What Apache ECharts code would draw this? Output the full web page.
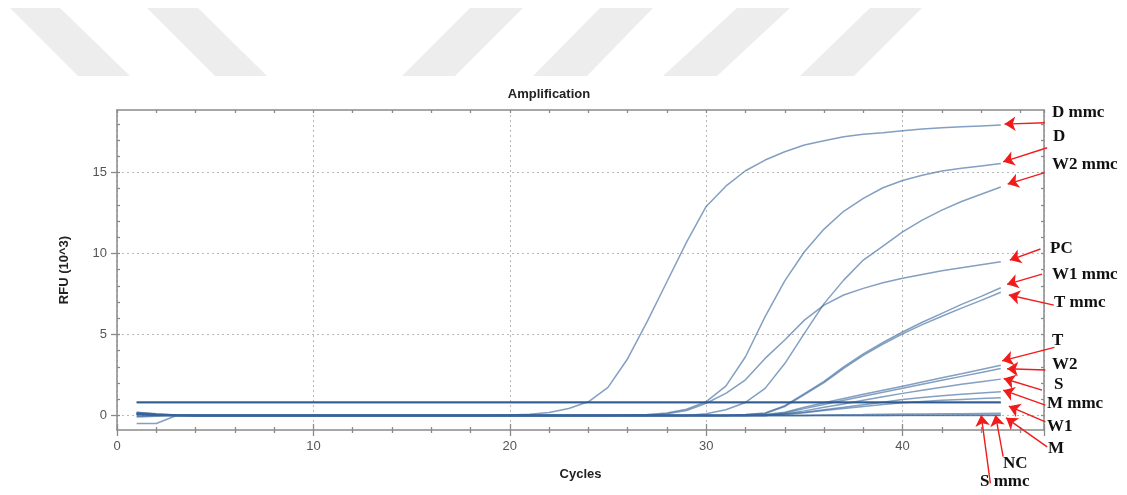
<!DOCTYPE html>
<html>
<head>
<meta charset="utf-8">
<title>Amplification</title>
<script src="https://cdn.jsdelivr.net/npm/echarts@6/dist/echarts.min.js"></script>
<style>
  html, body { margin: 0; padding: 0; background: #fff; }
  #chart { width: 1127px; height: 495px; }
</style>
</head>
<body>
<div id="chart"></div>
<script>
// cycle numbers (x)
const cycles = [1, 2, 3, 4, 5, 6, 7, 8, 9, 10, 11, 12, 13, 14, 15, 16, 17, 18, 19, 20,
  21, 22, 23, 24, 25, 26, 27, 28, 29, 30, 31, 32, 33, 34, 35, 36, 37, 38, 39, 40,
  41, 42, 43, 44, 45];

// RFU (10^3) per cycle
const dMmc = [0.12, 0.04, 0.01, 0, 0, 0, 0, 0, 0, 0, 0, 0, 0, 0, 0, 0, 0, 0, 0, 0.02,
  0.07, 0.18, 0.43, 0.84, 1.73, 3.5, 5.8, 8.25, 10.7, 12.9, 14.15, 15.1, 15.76, 16.27, 16.69, 16.95, 17.2, 17.35, 17.45, 17.57,
  17.67, 17.75, 17.82, 17.87, 17.92];
const d = [0.08, 0.03, 0, 0, 0, 0, 0, 0, 0, 0, 0, 0, 0, 0, 0, 0, 0, 0, 0, 0,
  0, 0, 0, 0, 0, 0.02, 0.06, 0.15, 0.38, 0.85, 1.81, 3.62, 6.1, 8.3, 10.1, 11.5, 12.6, 13.4, 14.05, 14.5,
  14.82, 15.08, 15.25, 15.4, 15.55];
const w2Mmc = [0.15, 0.05, 0.01, 0, 0, 0, 0, 0, 0, 0, 0, 0, 0, 0, 0, 0, 0, 0, 0, 0,
  0, 0, 0, 0, 0, 0, 0, 0, 0, 0.1, 0.35, 0.8, 1.67, 3.2, 5.06, 6.9, 8.35, 9.59, 10.45, 11.33,
  12.05, 12.67, 13.2, 13.65, 14.1];
const pc = [0.05, 0.02, 0, 0, 0, 0, 0, 0, 0, 0, 0, 0, 0, 0, 0, 0, 0, 0, 0, 0,
  0, 0, 0, 0, 0, 0, 0, 0.1, 0.3, 0.75, 1.36, 2.2, 3.52, 4.65, 5.88, 6.81, 7.43, 7.84, 8.19, 8.46,
  8.7, 8.93, 9.12, 9.3, 9.48];
const w1Mmc = [0.1, 0.03, 0, 0, 0, 0, 0, 0, 0, 0, 0, 0, 0, 0, 0, 0, 0, 0, 0, 0,
  0, 0, 0, 0, 0, 0, 0, 0, 0, 0, 0, 0.05, 0.15, 0.6, 1.35, 2.1, 3.0, 3.8, 4.5, 5.15,
  5.75, 6.3, 6.85, 7.35, 7.88];
const tMmc = [0.18, 0.08, 0.02, 0, 0, 0, 0, 0, 0, 0, 0, 0, 0, 0, 0, 0, 0, 0, 0, 0,
  0, 0, 0, 0, 0, 0, 0, 0, 0, 0, 0, 0.04, 0.12, 0.55, 1.28, 2.02, 2.9, 3.7, 4.4, 5.03,
  5.6, 6.12, 6.62, 7.1, 7.6];
const t = [-0.05, -0.02, 0, 0, 0, 0, 0, 0, 0, 0, 0, 0, 0, 0, 0, 0, 0, 0, 0, 0,
  0, 0, 0, 0, 0, 0, 0, 0, 0, 0, 0, 0, 0.05, 0.2, 0.5, 0.78, 1.04, 1.3, 1.55, 1.8,
  2.06, 2.32, 2.57, 2.83, 3.1];
const w2 = [0.02, 0.01, 0, 0, 0, 0, 0, 0, 0, 0, 0, 0, 0, 0, 0, 0, 0, 0, 0, 0,
  0, 0, 0, 0, 0, 0, 0, 0, 0, 0, 0, 0, 0.03, 0.15, 0.42, 0.68, 0.93, 1.18, 1.43, 1.68,
  1.93, 2.17, 2.41, 2.65, 2.9];
const s = [0.12, 0.06, 0.01, 0, 0, 0, 0, 0, 0, 0, 0, 0, 0, 0, 0, 0, 0, 0, 0, 0,
  0, 0, 0, 0, 0, 0, 0, 0, 0, 0, 0, 0, 0, 0.1, 0.28, 0.5, 0.7, 0.93, 1.15, 1.36,
  1.55, 1.74, 1.92, 2.08, 2.24];
const mMmc = [0.07, 0.02, 0, 0, 0, 0, 0, 0, 0, 0, 0, 0, 0, 0, 0, 0, 0, 0, 0, 0,
  0, 0, 0, 0, 0, 0, 0, 0, 0, 0, 0, 0, 0, 0.08, 0.2, 0.35, 0.5, 0.66, 0.82, 0.98,
  1.1, 1.21, 1.3, 1.38, 1.46];
const w1 = [-0.1, -0.05, -0.01, 0, 0, 0, 0, 0, 0, 0, 0, 0, 0, 0, 0, 0, 0, 0, 0, 0,
  0, 0, 0, 0, 0, 0, 0, 0, 0, 0, 0, 0, 0, 0.06, 0.16, 0.3, 0.43, 0.55, 0.67, 0.78,
  0.86, 0.93, 0.99, 1.04, 1.09];
const m = [0.2, 0.1, 0.02, 0, 0, 0, 0, 0, 0, 0, 0, 0, 0, 0, 0, 0, 0, 0, 0, 0,
  0, 0, 0, 0, 0, 0, 0, 0, 0, 0, 0, 0, 0, 0, 0, 0.02, 0.04, 0.05, 0.07, 0.08,
  0.09, 0.1, 0.11, 0.12, 0.13];
const nc = [-0.5, -0.5, -0.02, 0, 0, 0, 0, 0, 0, 0, 0, 0, 0, 0, 0, 0, 0, 0, 0, 0,
  0, 0, 0, 0, 0, 0, 0, 0, 0, 0, 0, 0, 0, 0, 0, 0, 0, 0, 0, 0.01,
  0.01, 0.01, 0.02, 0.02, 0.02];
const sMmc = [0.1, 0.04, 0, 0, 0, 0, 0, 0, 0, 0, 0, 0, 0, 0, 0, 0, 0, 0, 0, 0,
  0, 0, 0, 0, 0, 0, 0, 0, 0, 0, 0, 0, 0, 0, 0, 0, 0, 0, 0, 0,
  0, 0, 0, 0, 0];
const flatA = [0.82, 0.82, 0.82, 0.82, 0.82, 0.82, 0.82, 0.82, 0.82, 0.82, 0.82, 0.82, 0.82, 0.82, 0.82, 0.82, 0.82, 0.82, 0.82, 0.82,
  0.82, 0.82, 0.82, 0.82, 0.82, 0.82, 0.82, 0.82, 0.82, 0.82, 0.82, 0.82, 0.82, 0.82, 0.82, 0.82, 0.82, 0.82, 0.82, 0.82,
  0.82, 0.82, 0.82, 0.82, 0.82];
const flatB = [0.79, 0.79, 0.79, 0.79, 0.79, 0.79, 0.79, 0.79, 0.79, 0.79, 0.79, 0.79, 0.79, 0.79, 0.79, 0.79, 0.79, 0.79, 0.79, 0.79,
  0.79, 0.79, 0.79, 0.79, 0.79, 0.79, 0.79, 0.79, 0.79, 0.79, 0.79, 0.79, 0.79, 0.79, 0.79, 0.79, 0.79, 0.79, 0.79, 0.79,
  0.79, 0.79, 0.79, 0.79, 0.79];

const curveNames = ['D mmc', 'D', 'W2 mmc', 'PC', 'W1 mmc', 'T mmc', 'T', 'W2', 'S', 'M mmc', 'W1', 'M', 'NC', 'S mmc'];
const curveValues = [dMmc, d, w2Mmc, pc, w1Mmc, tMmc, t, w2, s, mMmc, w1, m, nc, sMmc];

// tick labels
const xTicks = [0, 10, 20, 30, 40];
const yTicks = [0, 5, 10, 15];
const yMinorTicks = [0, 1, 2, 3, 4, 5, 6, 7, 8, 9, 10, 11, 12, 13, 14, 15, 16, 17, 18];

// red annotation arrows (data coords): label, tail, head
const arrowLabels = ['D mmc', 'D', 'W2 mmc', 'PC', 'W1 mmc', 'T mmc', 'T', 'W2', 'S', 'M mmc', 'W1', 'M', 'NC', 'S mmc'];
const arrowTail = [[47.24, 18.06], [47.36, 16.52], [47.24, 14.98], [47.02, 10.27], [47.1, 8.72], [47.7, 6.81], [47.73, 4.2],
  [47.27, 2.8], [47.1, 1.56], [47.27, 0.64], [47.27, -0.4], [47.36, -1.94], [45.12, -2.55], [44.47, -4.2]];
const arrowHead = [[45.19, 17.98], [45.12, 15.65], [45.35, 14.28], [45.46, 9.59], [45.32, 8.09], [45.41, 7.43], [45.07, 3.37],
  [45.32, 2.88], [45.15, 2.28], [45.12, 1.56], [45.41, 0.57], [45.27, -0.15], [44.73, 0.02], [44.0, 0.02]];
// where the label text sits (px)
const labelPos = [[1052, 113], [1053, 137], [1052, 165], [1050, 249], [1052, 275], [1054, 303], [1052, 341],
  [1052, 365], [1054, 385], [1047, 404], [1047, 427], [1048, 449], [1003, 464], [980, 482]];

const gridBox = { left: 117, top: 110, right: 83, bottom: 65 };
const axisGrey = '#8a8a8a';
const lineBlue = 'rgba(55, 100, 155, 0.62)';

function pairs(vals) {
  return cycles.map((c, i) => [c, vals[i]]);
}

let series = curveNames.map((name, i) => ({
  name: name,
  type: 'line',
  data: pairs(curveValues[i]),
  showSymbol: false,
  symbol: 'none',
  lineStyle: { color: lineBlue, width: 1.5 },
  emphasis: { disabled: true },
  z: 3
}));

series.push({
  name: 'flat A', type: 'line', data: pairs(flatA), symbol: 'none',
  lineStyle: { color: 'rgba(40, 85, 140, 0.8)', width: 1.6 }, emphasis: { disabled: true }, z: 3
});
series.push({
  name: 'flat B', type: 'line', data: pairs(flatB), symbol: 'none',
  lineStyle: { color: 'rgba(40, 85, 140, 0.8)', width: 1.6 }, emphasis: { disabled: true }, z: 3
});

// holder series for the red arrows, filled in once the grid exists
series.push({
  name: 'arrows',
  type: 'line',
  data: [],
  clip: false,
  z: 5
});

// grey watermark stripes at the top of the image
const stripes = [
  [[10, 8], [60, 8], [130, 76], [78, 76]],
  [[147, 8], [198, 8], [267, 76], [215, 76]],
  [[470, 8], [523, 8], [455, 76], [402, 76]],
  [[600, 8], [653, 8], [587, 76], [533, 76]],
  [[737, 8], [790, 8], [717, 76], [663, 76]],
  [[870, 8], [922, 8], [854, 76], [800, 76]]
];

let graphics = stripes.map((pts) => ({
  type: 'polygon',
  shape: { points: pts },
  style: { fill: '#ededed' },
  silent: true,
  z: -10
}));

graphics.push({
  type: 'text',
  x: 549, y: 94,
  style: {
    text: 'Amplification',
    fill: '#222',
    font: 'bold 13px "Liberation Sans", Arial, sans-serif',
    textAlign: 'center',
    textVerticalAlign: 'middle'
  }
});

arrowLabels.forEach((name, i) => {
  graphics.push({
    type: 'text',
    x: labelPos[i][0], y: labelPos[i][1],
    style: {
      text: name,
      fill: '#111',
      font: 'bold 17px "Liberation Serif", "Times New Roman", serif',
      textAlign: 'left',
      textVerticalAlign: 'middle'
    },
    z: 10
  });
});

const chart = echarts.init(document.getElementById('chart'), null, { renderer: 'canvas' });

const tickStyle = { color: axisGrey, width: 1.3 };
const frameLine = { show: true, onZero: false, lineStyle: { color: axisGrey, width: 1.5 } };

chart.setOption({
  animation: false,
  backgroundColor: '#fff',
  grid: [
    Object.assign({}, gridBox),
    Object.assign({}, gridBox)
  ],
  xAxis: [
    {
      type: 'value', gridIndex: 0, position: 'bottom',
      min: 0, max: 47.2, interval: 10,
      axisLine: frameLine,
      axisTick: { show: true, inside: false, length: 6, lineStyle: tickStyle },
      minorTick: { show: true, splitNumber: 5, length: 3, lineStyle: tickStyle },
      axisLabel: {
        showMaxLabel: false, color: '#555', fontSize: 13, margin: 10,
        fontFamily: '"Liberation Sans", Arial, sans-serif'
      },
      splitLine: { show: true, lineStyle: { type: [2, 3], color: '#b8b8b8', width: 1 } },
      name: 'Cycles', nameLocation: 'middle', nameGap: 38,
      nameTextStyle: { fontWeight: 'bold', fontSize: 13, color: '#222', fontFamily: '"Liberation Sans", Arial, sans-serif' }
    },
    {
      type: 'value', gridIndex: 0, position: 'top',
      min: 0, max: 47.2, interval: 10,
      axisLine: frameLine,
      axisTick: { show: true, inside: true, length: 3, lineStyle: tickStyle },
      minorTick: { show: true, splitNumber: 5, length: 3, lineStyle: tickStyle },
      axisLabel: { show: false },
      splitLine: { show: false }
    },
    {
      type: 'value', gridIndex: 1, position: 'bottom',
      min: 0, max: 47.2, interval: 10,
      axisLine: { show: false, onZero: false },
      axisTick: { show: true, inside: true, length: 6, lineStyle: tickStyle },
      minorTick: { show: true, splitNumber: 5, length: 3, lineStyle: tickStyle },
      axisLabel: { show: false },
      splitLine: { show: false }
    }
  ],
  yAxis: [
    {
      type: 'value', gridIndex: 0, position: 'left',
      min: -0.9, max: 18.85,
      axisLine: frameLine,
      axisTick: { show: true, inside: false, length: 6, customValues: yTicks, lineStyle: tickStyle },
      axisLabel: {
        customValues: yTicks, color: '#555', fontSize: 13, margin: 10,
        fontFamily: '"Liberation Sans", Arial, sans-serif'
      },
      splitLine: { show: true, lineStyle: { type: [2, 3], color: '#b8b8b8', width: 1 } },
      name: 'RFU (10^3)', nameLocation: 'middle', nameGap: 46, nameRotate: 90,
      nameTextStyle: { fontWeight: 'bold', fontSize: 13, color: '#222', fontFamily: '"Liberation Sans", Arial, sans-serif' }
    },
    {
      type: 'value', gridIndex: 0, position: 'right',
      min: -0.9, max: 18.85,
      axisLine: frameLine,
      axisTick: { show: true, inside: true, length: 3, customValues: yMinorTicks, lineStyle: tickStyle },
      axisLabel: { show: false },
      splitLine: { show: false }
    },
    {
      type: 'value', gridIndex: 1, position: 'left',
      min: -0.9, max: 18.85,
      axisLine: { show: false, onZero: false },
      axisTick: { show: true, inside: true, length: 3, customValues: yMinorTicks, lineStyle: tickStyle },
      axisLabel: { show: false },
      splitLine: { show: false }
    }
  ],
  graphic: graphics,
  series: series
});

// arrows: convert the data-space tail/head to pixels so points beyond the axis range are kept
const toPx = (pt) => chart.convertToPixel({ gridIndex: 0 }, pt);
chart.setOption({
  series: [{
    name: 'arrows',
    markLine: {
      silent: true,
      symbol: ['none', 'arrow'],
      symbolSize: 11,
      label: { show: false },
      lineStyle: { color: '#f01c1c', width: 1.4, type: 'solid' },
      emphasis: { disabled: true },
      animation: false,
      data: arrowLabels.map((name, i) => {
        const a = toPx(arrowTail[i]);
        const b = toPx(arrowHead[i]);
        return [{ name: name, x: a[0], y: a[1] }, { x: b[0], y: b[1] }];
      })
    }
  }]
});
</script>
</body>
</html>
